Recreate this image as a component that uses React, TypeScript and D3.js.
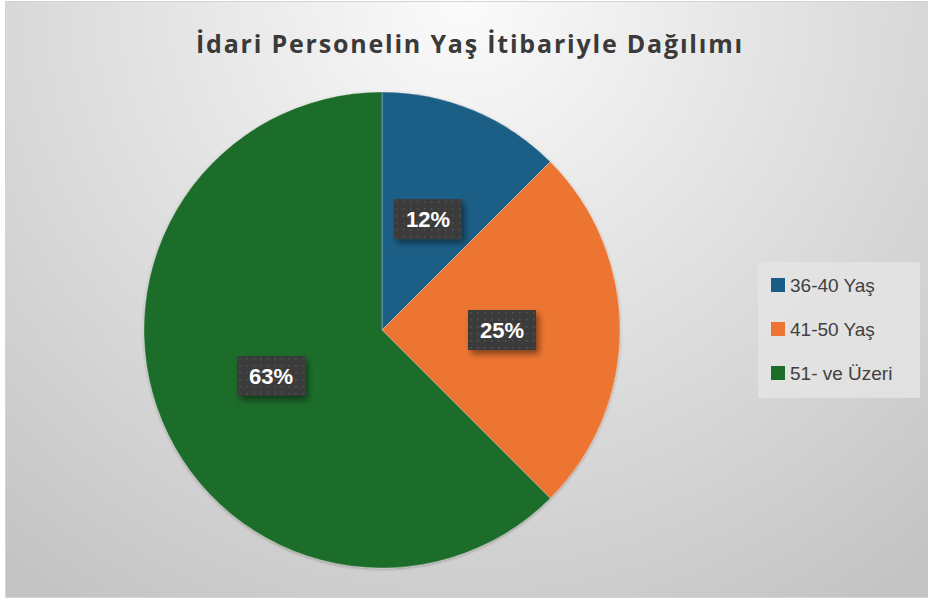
import { useEffect, useRef } from 'react'
import * as d3 from 'd3'

const title = 'İdari Personelin Yaş İtibariyle Dağılımı'
const categories = ['36-40 Yaş', '41-50 Yaş', '51- ve Üzeri']
const values = [12.5, 25, 62.5]
const valueLabels = ['12%', '25%', '63%']
const colors = ['#1a5e86', '#ed7431', '#1c6d29']

const W = 928
const H = 601

export default function App() {
  const svgRef = useRef<SVGSVGElement>(null)

  useEffect(() => {
    if (!svgRef.current) return
    const svg = d3.select(svgRef.current)
    svg.selectAll('*').remove()

    const defs = svg.append('defs')

    const bg = defs.append('radialGradient')
      .attr('id', 'bg')
      .attr('gradientUnits', 'userSpaceOnUse')
      .attr('cx', 465).attr('cy', 0).attr('r', 720)
    bg.append('stop').attr('offset', '0%').attr('stop-color', '#fbfbfb')
    bg.append('stop').attr('offset', '100%').attr('stop-color', '#c4c4c4')

    const dots = defs.append('pattern')
      .attr('id', 'dots')
      .attr('patternUnits', 'userSpaceOnUse')
      .attr('width', 7).attr('height', 7)
    dots.append('rect').attr('width', 7).attr('height', 7).attr('fill', '#3b3b3b')
    dots.append('rect').attr('x', 3).attr('y', 3).attr('width', 1.5).attr('height', 1.5).attr('fill', '#555')

    const shadow = defs.append('filter').attr('id', 'shadow')
      .attr('x', '-20%').attr('y', '-20%').attr('width', '150%').attr('height', '160%')
    shadow.append('feDropShadow')
      .attr('dx', 3).attr('dy', 4).attr('stdDeviation', 3)
      .attr('flood-color', '#000').attr('flood-opacity', 0.45)

    const pieShadow = defs.append('filter').attr('id', 'pieShadow')
      .attr('x', '-10%').attr('y', '-10%').attr('width', '120%').attr('height', '120%')
    pieShadow.append('feDropShadow')
      .attr('dx', 0).attr('dy', 1).attr('stdDeviation', 1.5)
      .attr('flood-color', '#000').attr('flood-opacity', 0.3)

    // background frame
    svg.append('rect')
      .attr('x', 5.5).attr('y', 1.5)
      .attr('width', W - 5).attr('height', 596)
      .attr('fill', 'url(#bg)')
      .attr('stroke', '#d4d4d4')

    // title
    svg.append('text')
      .attr('x', 470).attr('y', 53)
      .attr('text-anchor', 'middle')
      .attr('font-family', '"Open Sans", sans-serif')
      .attr('font-weight', 700)
      .attr('font-size', 25)
      .attr('letter-spacing', 1.8)
      .attr('fill', '#3a3a3a')
      .text(title)

    // pie
    const cx = 382
    const cy = 330
    const radius = 238
    const labelRadius = 120

    const pie = d3.pie<number>().sort(null).value(d => d)
    const arcs = pie(values)
    const arc = d3.arc<d3.PieArcDatum<number>>().innerRadius(0).outerRadius(radius)
    const labelArc = d3.arc<d3.PieArcDatum<number>>().innerRadius(labelRadius).outerRadius(labelRadius)

    const g = svg.append('g').attr('transform', `translate(${cx},${cy})`)
    g.append('g').attr('filter', 'url(#pieShadow)')
      .selectAll('path')
      .data(arcs)
      .enter()
      .append('path')
      .attr('d', arc)
      .attr('fill', (_, i) => colors[i])
      .attr('stroke', 'rgba(255,255,255,0.35)')
      .attr('stroke-width', 0.8)

    const labels = g.selectAll('.lbl')
      .data(arcs)
      .enter()
      .append('g')
      .attr('class', 'lbl')
      .attr('transform', d => {
        const [x, y] = labelArc.centroid(d)
        return `translate(${x},${y})`
      })
    labels.append('rect')
      .attr('x', -34).attr('y', -20)
      .attr('width', 68).attr('height', 40)
      .attr('fill', 'url(#dots)')
      .attr('filter', 'url(#shadow)')
    labels.append('text')
      .attr('text-anchor', 'middle')
      .attr('dy', '0.36em')
      .attr('font-family', '"Liberation Sans", Arial, sans-serif')
      .attr('font-weight', 'bold')
      .attr('font-size', 22)
      .attr('fill', '#fff')
      .text((_, i) => valueLabels[i])

    // legend
    const legend = svg.append('g').attr('transform', 'translate(758,262)')
    legend.append('rect')
      .attr('width', 162).attr('height', 136)
      .attr('fill', '#e4e4e4')
      .attr('opacity', 0.85)
    const rowY = d3.scalePoint<string>().domain(categories).range([23, 111])
    const items = legend.selectAll('.item')
      .data(categories)
      .enter()
      .append('g')
      .attr('transform', d => `translate(13,${rowY(d)})`)
    items.append('rect')
      .attr('x', 0).attr('y', -7)
      .attr('width', 14).attr('height', 14)
      .attr('fill', (_, i) => colors[i])
    items.append('text')
      .attr('x', 19)
      .attr('dy', '0.36em')
      .attr('font-family', '"Liberation Sans", Arial, sans-serif')
      .attr('font-size', 19)
      .attr('fill', '#404040')
      .text(d => d)
  }, [])

  return (
    <svg
      ref={svgRef}
      width={W}
      height={H}
      style={{ position: 'absolute', left: 0, top: 0, display: 'block', background: '#fff' }}
    />
  )
}
